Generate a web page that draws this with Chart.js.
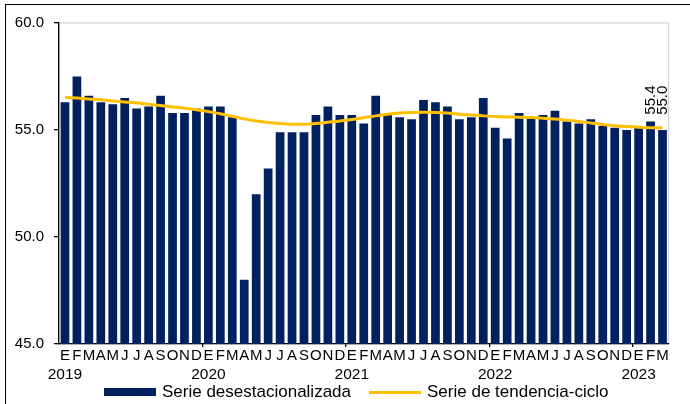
<!DOCTYPE html>
<html>
<head>
<meta charset="utf-8">
<script src="https://cdn.jsdelivr.net/npm/chart.js@4/dist/chart.umd.min.js"></script>
<style>
  html, body { margin: 0; padding: 0; background: #fff; }
  #wrap { position: relative; width: 690px; height: 404px; overflow: hidden; font-family: Arial, "Liberation Sans", sans-serif; }
  #frame { position: absolute; left: 4.6px; top: 3.7px; right: -10px; bottom: -10px; border-left: 1.6px solid #000; border-top: 1.6px solid #000; }
  canvas { position: absolute; left: 0; top: 0; }
  #legend { position: absolute; left: 104px; top: 382px; display: flex; align-items: center; font-size: 17px; line-height: 20px; color: #000; white-space: nowrap; }
  .swatch-bar { width: 52px; height: 8px; background: #002060; margin-right: 6px; }
  .swatch-line { width: 52px; height: 3px; background: #FFC000; margin-left: 18px; margin-right: 6px; }
</style>
</head>
<body>
<div id="wrap">
  <div id="frame"></div>
  <canvas id="chart" width="690" height="404"></canvas>
  <div id="legend">
    <div class="swatch-bar"></div><span>Serie desestacionalizada</span>
    <div class="swatch-line"></div><span>Serie de tendencia-ciclo</span>
  </div>
</div>
<script>
const monthLetters = ['E', 'F', 'M', 'A', 'M', 'J', 'J', 'A', 'S', 'O', 'N', 'D']
const yearLabels = ['2019', '2020', '2021', '2022', '2023']

// Serie desestacionalizada, ene 2019 - mar 2023
const seasonallyAdjusted = [
  56.3, 57.5, 56.6, 56.3, 56.2, 56.5, 56.0, 56.1, 56.6, 55.8, 55.8, 56.0,
  56.1, 56.1, 55.6, 48.0, 52.0, 53.2, 54.9, 54.9, 54.9, 55.7, 56.1, 55.7,
  55.7, 55.3, 56.6, 55.7, 55.6, 55.5, 56.4, 56.3, 56.1, 55.5, 55.6, 56.5,
  55.1, 54.6, 55.8, 55.6, 55.7, 55.9, 55.4, 55.3, 55.5, 55.2, 55.1, 55.0,
  55.1, 55.4, 55.0
]

// Serie de tendencia-ciclo
const trendCycle = [
  56.53, 56.49, 56.45, 56.41, 56.36, 56.31, 56.26, 56.20, 56.14, 56.08, 56.02, 55.95,
  55.86, 55.76, 55.64, 55.52, 55.42, 55.35, 55.30, 55.27, 55.27, 55.30, 55.36, 55.42,
  55.49, 55.57, 55.66, 55.74, 55.79, 55.82, 55.83, 55.82, 55.79, 55.74, 55.70, 55.66,
  55.63, 55.61, 55.60, 55.58, 55.55, 55.51, 55.46, 55.40, 55.33, 55.26, 55.20, 55.16,
  55.13, 55.11, 55.10
]

// only the last two bars carry a value label
const labelledPoints = [49, 50]

const categories = seasonallyAdjusted.map((v, i) => yearLabels[Math.floor(i / 12)] + '-' + monthLetters[i % 12])
const fontFamily = 'Arial, "Liberation Sans", sans-serif'

// light grey plot-area frame (top and right visible, left/bottom covered by axes)
const plotFrame = {
  id: 'plotFrame',
  beforeDraw(chart) {
    const { ctx, chartArea } = chart
    ctx.save()
    ctx.strokeStyle = '#d4d4d4'
    ctx.lineWidth = 1.2
    ctx.strokeRect(chartArea.left, chartArea.top, chartArea.right - chartArea.left, chartArea.bottom - chartArea.top)
    ctx.restore()
  }
}

// vertical value labels above the last bars
const barLabels = {
  id: 'barLabels',
  afterDatasetsDraw(chart) {
    const { ctx } = chart
    const meta = chart.getDatasetMeta(0)
    ctx.save()
    ctx.font = '15px ' + fontFamily
    ctx.fillStyle = '#000'
    ctx.textAlign = 'left'
    ctx.textBaseline = 'middle'
    labelledPoints.forEach(i => {
      const bar = meta.data[i]
      ctx.save()
      ctx.translate(bar.x, bar.y - 13)
      ctx.rotate(-Math.PI / 2)
      ctx.fillText(seasonallyAdjusted[i].toFixed(1), 0, 0)
      ctx.restore()
    })
    ctx.restore()
  }
}

new Chart(document.getElementById('chart'), {
  type: 'bar',
  data: {
    labels: categories,
    datasets: [
      {
        type: 'line',
        label: 'Serie de tendencia-ciclo',
        data: trendCycle,
        borderColor: '#FFC000',
        borderWidth: 3,
        pointRadius: 0,
        tension: 0.4,
        order: 1
      },
      {
        type: 'bar',
        label: 'Serie desestacionalizada',
        data: seasonallyAdjusted,
        backgroundColor: '#002060',
        borderWidth: 0,
        barPercentage: 0.73,
        categoryPercentage: 1,
        order: 2
      }
    ]
  },
  options: {
    responsive: false,
    animation: false,
    devicePixelRatio: 1,
    layout: { padding: { top: 23, right: 21.5, bottom: 20, left: 0 } },
    plugins: {
      legend: { display: false },
      tooltip: { enabled: false }
    },
    scales: {
      x: {
        position: 'bottom',
        weight: 0,
        afterFit(scale) { scale.height = 20 },
        border: { display: true, color: '#000', width: 1.3 },
        grid: {
          drawOnChartArea: false,
          tickLength: 3,
          lineWidth: 1.3,
          color: ctx => (ctx.index > 0 && ctx.index < categories.length && ctx.index % 12 === 0) ? '#000' : 'rgba(0,0,0,0)'
        },
        ticks: {
          autoSkip: false,
          maxRotation: 0,
          minRotation: 0,
          padding: 0,
          color: '#000',
          font: { family: fontFamily, size: 15 },
          callback: (v, i) => monthLetters[i % 12]
        }
      },
      x2: {
        type: 'category',
        position: 'bottom',
        weight: 1,
        afterFit(scale) { scale.height = 20 },
        border: { display: false },
        grid: { display: false, drawTicks: false },
        ticks: {
          autoSkip: false,
          maxRotation: 0,
          minRotation: 0,
          padding: 1,
          color: '#000',
          font: { family: fontFamily, size: 15.5 },
          callback: (v, i) => i % 12 === 0 ? yearLabels[i / 12] : ''
        }
      },
      y: {
        min: 45,
        max: 60,
        afterFit(scale) { scale.width = 59 },
        border: { display: true, color: '#000', width: 1.3 },
        grid: { drawOnChartArea: false, tickLength: 5, color: '#000', lineWidth: 1.3 },
        ticks: {
          stepSize: 5,
          padding: 10,
          color: '#000',
          font: { family: fontFamily, size: 15 },
          callback: v => v.toFixed(1)
        }
      }
    }
  },
  plugins: [plotFrame, barLabels]
})
</script>
</body>
</html>
